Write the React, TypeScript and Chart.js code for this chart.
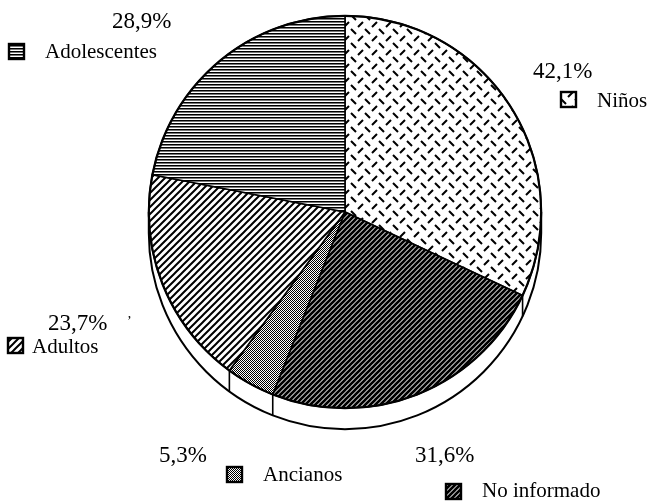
import React, { useEffect, useRef } from "react";
import { Chart, registerables } from "chart.js";

Chart.register(...registerables);

// ---- data ----
const categories = ["Niños", "No informado", "Ancianos", "Adultos", "Adolescentes"];
const values = [42.1, 31.6, 5.3, 23.7, 28.9];
const percentLabels = ["42,1%", "31,6%", "5,3%", "23,7%", "28,9%"];
const patternKinds = ["dashes", "dense", "fine", "diag", "horiz"];

// label placement
const percentPos = [
  [533, 78],
  [415, 462],
  [159, 462],
  [48, 330],
  [112, 28],
];
const boxPos = [
  [561, 92],
  [446, 484],
  [227, 467],
  [8, 338],
  [9, 44],
];
const namePos = [
  [597, 107],
  [482, 497],
  [263, 481],
  [32, 353],
  [45, 58],
];

const DEPTH = 21;

function makePattern(kind: string): CanvasPattern | string {
  const c = document.createElement("canvas");
  const g = c.getContext("2d")!;
  const tile = (w: number, h: number) => {
    c.width = w;
    c.height = h;
    g.fillStyle = "#fff";
    g.fillRect(0, 0, w, h);
    g.strokeStyle = "#000";
    g.fillStyle = "#000";
  };
  if (kind === "dashes") {
    tile(14, 14);
    g.lineWidth = 2;
    g.beginPath();
    g.moveTo(1.0, 1.0);
    g.lineTo(6.0, 6.0);
    g.moveTo(8.0, 13.0);
    g.lineTo(13.0, 8.0);
    g.stroke();
  } else if (kind === "dense") {
    tile(5, 5);
    g.lineWidth = 2.7;
    g.beginPath();
    for (let k = -1; k <= 2; k++) {
      g.moveTo(-2 + k * 5, 7);
      g.lineTo(7 + k * 5, -2);
    }
    g.stroke();
  } else if (kind === "fine") {
    tile(2, 2);
    g.fillRect(0, 0, 1, 1);
    g.fillRect(1, 1, 1, 1);
  } else if (kind === "diag") {
    tile(7, 7);
    g.lineWidth = 2;
    g.beginPath();
    for (let k = -1; k <= 2; k++) {
      g.moveTo(-2 + k * 7, 9);
      g.lineTo(9 + k * 7, -2);
    }
    g.stroke();
  } else {
    tile(4, 3);
    g.fillRect(0, 0, 4, 1);
    g.fillStyle = "#777";
    g.fillRect(0, 1, 4, 1);
  }
  const p = g.createPattern(c, "repeat");
  return p || "#888";
}

export default function App() {
  const ref = useRef<HTMLCanvasElement>(null);

  useEffect(() => {
    const canvas = ref.current;
    if (!canvas) return;
    const patterns = patternKinds.map(makePattern);

    const sidePlugin = {
      id: "side3d",
      beforeDatasetsDraw(chart: any) {
        const arcs = chart.getDatasetMeta(0).data as any[];
        if (!arcs.length) return;
        const { x, y, outerRadius: r } = arcs[0];
        const ctx = chart.ctx as CanvasRenderingContext2D;
        ctx.save();
        ctx.fillStyle = "#fff";
        ctx.fillRect(x - r, y, 2 * r, DEPTH);
        ctx.beginPath();
        ctx.arc(x, y + DEPTH, r, 0, Math.PI * 2);
        ctx.fill();
        ctx.strokeStyle = "#000";
        ctx.lineWidth = 2;
        ctx.beginPath();
        ctx.arc(x, y + DEPTH, r, 0, Math.PI);
        ctx.stroke();
        ctx.beginPath();
        ctx.moveTo(x - r, y);
        ctx.lineTo(x - r, y + DEPTH);
        ctx.moveTo(x + r, y);
        ctx.lineTo(x + r, y + DEPTH);
        ctx.stroke();
        ctx.lineWidth = 1.6;
        ctx.beginPath();
        for (const a of arcs) {
          const ang = a.startAngle;
          if (Math.sin(ang) > 0.02) {
            const px = x + r * Math.cos(ang);
            const py = y + r * Math.sin(ang);
            ctx.moveTo(px, py);
            ctx.lineTo(px, py + DEPTH);
          }
        }
        ctx.stroke();
        ctx.restore();
      },
      afterDatasetsDraw(chart: any) {
        const arcs = chart.getDatasetMeta(0).data as any[];
        if (!arcs.length) return;
        const { x, y, outerRadius: r } = arcs[0];
        const ctx = chart.ctx as CanvasRenderingContext2D;
        ctx.save();
        ctx.strokeStyle = "#000";
        ctx.lineWidth = 2.2;
        ctx.beginPath();
        ctx.arc(x, y, r, 0, Math.PI * 2);
        ctx.stroke();
        ctx.restore();
      },
    };

    const labelPlugin = {
      id: "labels",
      afterDraw(chart: any) {
        const ctx = chart.ctx as CanvasRenderingContext2D;
        ctx.save();
        ctx.textBaseline = "alphabetic";
        ctx.textAlign = "left";
        categories.forEach((name, i) => {
          ctx.fillStyle = "#000";
          ctx.font = "23px 'Liberation Serif', 'DejaVu Serif', serif";
          ctx.fillText(percentLabels[i], percentPos[i][0], percentPos[i][1]);
          ctx.font = "21px 'Liberation Serif', 'DejaVu Serif', serif";
          ctx.fillText(name, namePos[i][0], namePos[i][1]);
          const [bx, by] = boxPos[i];
          const s = 15;
          ctx.fillStyle = patterns[i] as any;
          ctx.fillRect(bx, by, s, s);
          ctx.strokeStyle = "#000";
          ctx.lineWidth = 2.4;
          ctx.strokeRect(bx, by, s, s);
        });
        // small stray mark visible beside the 23,7% label in the source
        ctx.fillStyle = "#000";
        ctx.font = "14px 'Liberation Serif', serif";
        ctx.fillText("\u2019", 127, 326);
        ctx.restore();
      },
    };

    const chart = new Chart(canvas, {
      type: "pie",
      data: {
        labels: categories,
        datasets: [
          {
            data: values,
            backgroundColor: patterns as any,
            borderColor: "#000",
            borderWidth: 1.6,
            hoverOffset: 0,
          },
        ],
      },
      options: {
        responsive: false,
        animation: false,
        events: [],
        layout: { padding: { left: 148, top: 15, right: 107, bottom: 94 } },
        plugins: {
          legend: { display: false },
          tooltip: { enabled: false },
          title: { display: false },
        },
      },
      plugins: [sidePlugin, labelPlugin],
    });
    return () => chart.destroy();
  }, []);

  return (
    <div
      style={{
        position: "fixed",
        left: 0,
        top: 0,
        width: 649,
        height: 503,
        background: "#fff",
      }}
    >
      <canvas ref={ref} width={649} height={503} style={{ display: "block" }} />
    </div>
  );
}
